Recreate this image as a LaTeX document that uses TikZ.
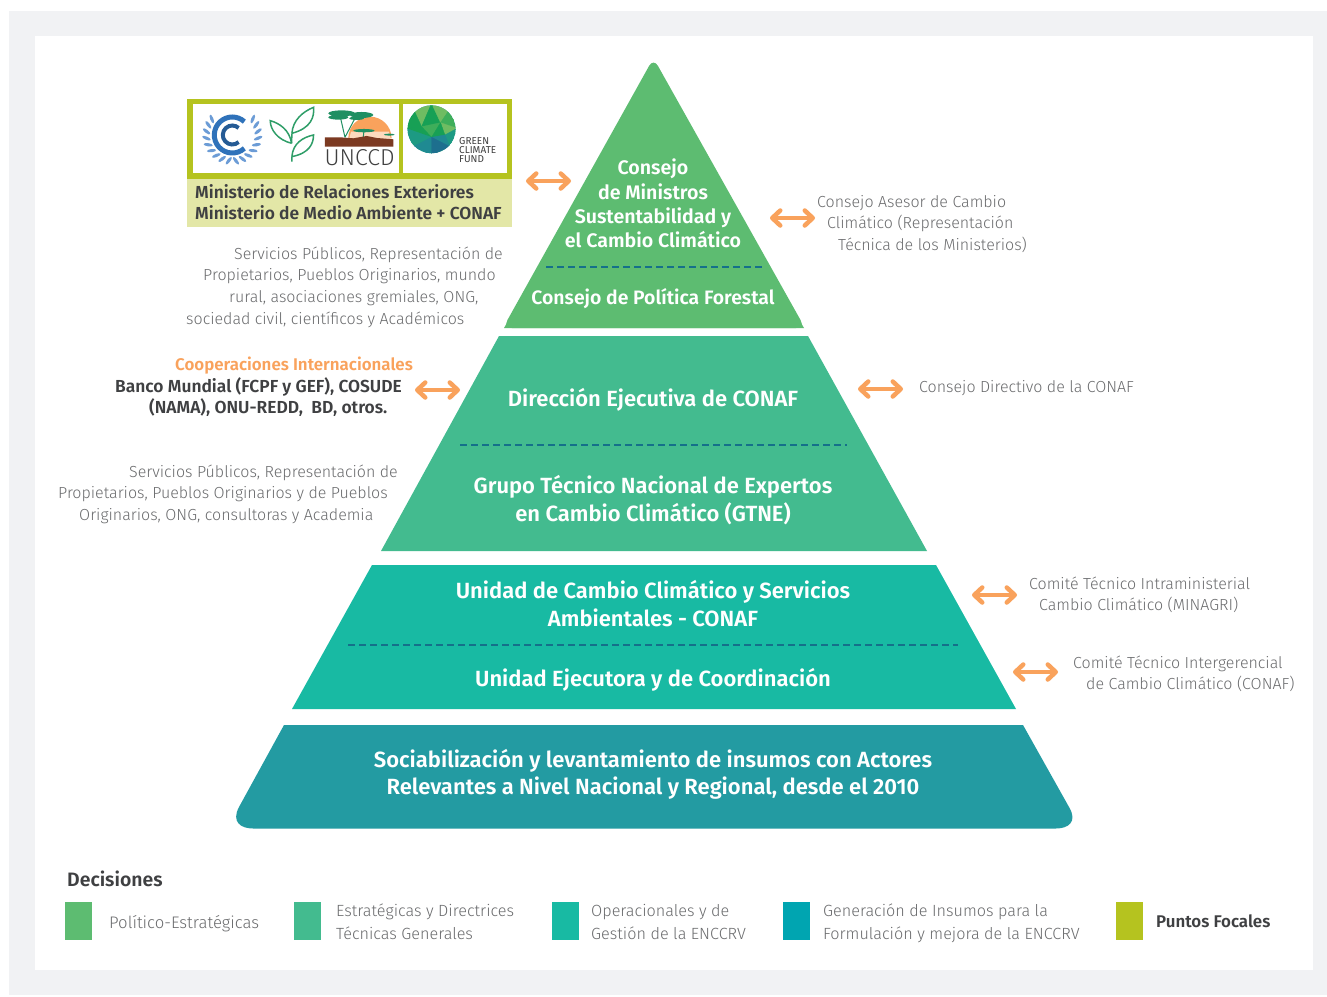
\documentclass[tikz,border=0pt]{standalone}
\usepackage{fontspec}
\setmainfont{Fira Sans}
\newfontfamily\lightfont{Fira Sans Light}
\newfontfamily\boldfont{Fira Sans SemiBold}
\usetikzlibrary{arrows.meta}

\definecolor{pagegray}{HTML}{F1F2F4}
\definecolor{levelA}{HTML}{5DBC71}
\definecolor{levelB}{HTML}{43BB8F}
\definecolor{levelC}{HTML}{18BAA3}
\definecolor{levelD}{HTML}{239BA2}
\definecolor{legendD}{HTML}{00A5B1}
\definecolor{focal}{HTML}{B5C31F}
\definecolor{focalpale}{HTML}{E3E7A7}
\definecolor{arroworange}{HTML}{F9A25C}
\definecolor{dashblue}{HTML}{15708A}
\definecolor{graytext}{HTML}{6A6B6D}
\definecolor{darktext}{HTML}{3F4042}
\definecolor{unblue}{HTML}{2F72BA}
\definecolor{unpale}{HTML}{6C9CD6}
\definecolor{leafgreen}{HTML}{2F9E68}
\definecolor{treegreen}{HTML}{1F8F62}
\definecolor{soil}{HTML}{7C3A22}
\definecolor{globeA}{HTML}{6FBC62}
\definecolor{globeB}{HTML}{3FAE5A}
\definecolor{globeC}{HTML}{17A055}
\definecolor{globeD}{HTML}{1D9A83}
\definecolor{globeE}{HTML}{1F8A92}
\definecolor{globeF}{HTML}{1D6F8E}

\tikzset{
    level/.style={white, font=\boldfont\fontsize{22}{28}\selectfont, align=center},
    side/.style={graytext, font=\lightfont\fontsize{16}{21.7}\selectfont, align=left, anchor=north west, inner sep=0},
    strong/.style={darktext, font=\boldfont\fontsize{17.4}{21.3}\selectfont, align=left, anchor=north west, inner sep=0},
    legendtext/.style={side, font=\lightfont\fontsize{16.2}{23}\selectfont},
    swatch/.style={minimum width=27pt, minimum height=38pt, inner sep=0, anchor=north west},
    twoway/.style={{Straight Barb[round,length=8pt,width=15pt]}-{Straight Barb[round,length=8pt,width=15pt]}, arroworange, line width=4.5pt},
    split/.style={dashblue, line width=1.2pt, dash pattern=on 6.5pt off 4.5pt}
}

\begin{document}
\begin{tikzpicture}[x=1pt,y=-1pt]
    \useasboundingbox (0,0) rectangle (1327,996);
    \fill[pagegray] (9,11) rectangle (1327,995);
    \fill[white] (35,36) rectangle (1313,970);

    % pyramid
    \fill[levelA, rounded corners=9pt] (653.5,58) -- (805,328) -- (503,328) -- cycle;
    \fill[levelA] (504,328) -- (600,160) -- (707,160) -- (804,328) -- cycle;
    \fill[levelB] (499,336) -- (808,336) -- (927,551) -- (381,551) -- cycle;
    \fill[levelC] (372,565) -- (936,565) -- (1016,709) -- (292,709) -- cycle;
    \fill[levelD] (284,725) -- (1023,725) -- (1069,807) .. controls (1078,822) and (1068,828.5) .. (1056,828.5)
        -- (253,828.5) .. controls (241,828.5) and (231,822) .. (239,807) -- cycle;

    \draw[split] (546,267) -- (762,267);
    \draw[split] (460,445) -- (847,445);
    \draw[split] (348,645) -- (958,645);

    \node[level, font=\boldfont\fontsize{19.6}{24.3}\selectfont] (ministros) at (653,203.5) {Consejo\\de Ministros\\Sustentabilidad y\\el Cambio Climático};
    \node[level, font=\boldfont\fontsize{19.4}{24}\selectfont] (forestal) at (653,299) {Consejo de Política Forestal};
    \node[level] (direccion) at (653,400) {Dirección Ejecutiva de CONAF};
    \node[level] (gtne) at (653,500) {Grupo Técnico Nacional de Expertos\\en Cambio Climático (GTNE)};
    \node[level] (unidad) at (653,604) {Unidad de Cambio Climático y Servicios\\Ambientales - CONAF};
    \node[level] (ejecutora) at (653,680) {Unidad Ejecutora y de Coordinación};
    \node[level, font=\boldfont\fontsize{22}{27}\selectfont] (actores) at (653,774) {Sociabilización y levantamiento de insumos con Actores\\Relevantes a Nivel Nacional y Regional, desde el 2010};

    % arrows
    \foreach \n/\x/\y in {a/526/181, b/770/218, c/415/390, d/858/389, e/972/595, f/1013/672} {
        \coordinate (\n left) at (\x,\y);
        \coordinate (\n right) at (\x+45,\y);
        \draw[twoway] (\n left) -- (\n right);
    }

    % focal point box
    \fill[focalpale] (187,179) rectangle (512,227);
    \fill[focal] (187,99) rectangle (512,179);
    \fill[white] (193,104) rectangle (399,173);
    \fill[white] (403,104) rectangle (507,173);
    \node[strong] (ministerios) at (195,184) {Ministerio de Relaciones Exteriores\\Ministerio de Medio Ambiente + CONAF};

    % un logo
    \begin{scope}[shift={(232.3,135)}]
        \foreach \a in {-128,-113,...,-8}
            \fill[unpale, rotate=\a, shift={(0,26)}, rotate=-30] (0,0) ellipse (1.6 and 4.6);
        \foreach \a in {8,23,...,128}
            \fill[unpale, rotate=\a, shift={(0,26)}, rotate=30] (0,0) ellipse (1.6 and 4.6);
        \draw[unblue, line width=5pt] (48:18) arc (48:312:18);
        \draw[unblue!80!black, line width=4pt] (48:9.5) arc (48:312:9.5);
    \end{scope}

    % leaf logo
    \begin{scope}[shift={(193,100)}, x=.333pt, y=-.333pt, leafgreen, line width=1.5pt]
        \draw (297,100) .. controls (300,60) and (330,35) .. (362,22) .. controls (365,50) and (355,85) .. (297,100);
        \draw (297,170) .. controls (300,130) and (330,112) .. (362,105) .. controls (362,130) and (350,160) .. (297,170);
        \draw (296,130) .. controls (290,90) and (260,70) .. (232,62) .. controls (232,90) and (255,120) .. (296,130);
        \draw (297,100) -- (296,130) (297,170) -- (297,185);
    \end{scope}

    % unccd logo
    \begin{scope}[shift={(320,100)}, x=.333pt, y=-.333pt]
        \fill[arroworange] (85,115) arc (180:360:65);
        \fill[arroworange!40] (88,115) -- (212,115) -- (207,95) -- (93,95) -- cycle;
        \fill[treegreen] (65,40) ellipse (40 and 9) (125,45) ellipse (35 and 9) (55,52) ellipse (30 and 7) (110,55) ellipse (22 and 5) (132,92) ellipse (32 and 5) (208,104) ellipse (16 and 3);
        \draw[treegreen, line width=1pt] (75,112) -- (62,55) (75,112) -- (105,55) (130,112) -- (132,92);
        \fill[soil] (15,112) -- (60,112) -- (100,115) -- (140,108) -- (170,114) -- (220,118) -- (220,140) -- (15,140) -- cycle;
        \node[inner sep=0, black!75, font=\lightfont\fontsize{23}{23}\selectfont] (unccd) at (119,172) {UNCCD};
    \end{scope}

    % climate fund logo
    \begin{scope}[shift={(320,100)}, x=.333pt, y=-.333pt]
        \fill[globeD] (335,88) circle (72);
        \clip (335,88) circle (72);
        \foreach \n/\x/\y in {t/335/10, ul/282/30, ur/388/30, l/258/85, r/412/85, ll/280/140, lr/390/140, b/335/165, i/305/80, j/362/68, k/335/112, m/375/105}
            \coordinate (globe\n) at (\x,\y);
        \foreach \c/\u/\v/\w in {globeA/t/ul/i, globeC/t/i/j, globeA/t/j/ur, globeC/ul/l/i, globeB/ur/j/r,
                globeB/i/j/k, globeA/j/r/m, globeC/j/m/k, globeC/l/i/k, globeD/l/k/ll, globeD/m/r/lr,
                globeE/k/m/lr, globeE/ll/k/b, globeF/k/lr/b}
            \fill[\c, draw=\c, line width=.3pt] (globe\u) -- (globe\v) -- (globe\w) -- cycle;
    \end{scope}
    \node[inner sep=0, anchor=north west, align=left, black!75, font=\fontsize{10}{9}\selectfont] (gcf) at (459,137.5) {GREEN\\CLIMATE\\FUND};

    % side texts
    \node[side] (publicosA) at (186,246.5) {\hspace*{48pt}Servicios Públicos, Representación de\\\hspace*{17pt}Propietarios, Pueblos Originarios, mundo\\\hspace*{43pt}rural, asociaciones gremiales, ONG,\\sociedad civil, científicos y Académicos};
    \node[side, font=\boldfont\fontsize{16.9}{21.5}\selectfont, arroworange] (cooperaciones) at (175,357) {Cooperaciones Internacionales};
    \node[strong] (banco) at (115,377) {Banco Mundial (FCPF y GEF), COSUDE\\\hspace*{34pt}(NAMA), ONU-REDD,\ \ BD, otros.};
    \node[side] (publicosB) at (58,464.5) {\hspace*{71pt}Servicios Públicos, Representación de\\Propietarios, Pueblos Originarios y de Pueblos\\\hspace*{21pt}Originarios, ONG, consultoras y Academia};

    \node[side] (asesor) at (817,195) {Consejo Asesor de Cambio\\\hspace*{10pt}Climático (Representación\\\hspace*{21pt}Técnica de los Ministerios)};
    \node[side] (directivo) at (919,380.5) {Consejo Directivo de la CONAF};
    \node[side] (intra) at (1029,576.5) {Comité Técnico Intraministerial\\\hspace*{10pt}Cambio Climático (MINAGRI)};
    \node[side] (inter) at (1073,655.5) {Comité Técnico Intergerencial\\\hspace*{13pt}de Cambio Climático (CONAF)};

    % legend
    \node[strong, font=\boldfont\fontsize{19.4}{22}\selectfont] (decisiones) at (67,871) {Decisiones};
    \node[swatch, fill=levelA] (legA) at (65,902) {};
    \node[swatch, fill=levelB] (legB) at (294,902) {};
    \node[swatch, fill=levelC] (legC) at (552,902) {};
    \node[swatch, fill=legendD] (legD) at (783,902) {};
    \node[swatch, fill=focal] (legE) at (1116,902) {};
    \node[legendtext, font=\lightfont\fontsize{16.7}{23}\selectfont] (txtA) at (109,915) {Político-Estratégicas};
    \node[legendtext] (txtB) at (336,904) {Estratégicas y Directrices\\Técnicas Generales};
    \node[legendtext] (txtC) at (591,904) {Operacionales y de\\Gestión de la ENCCRV};
    \node[legendtext] (txtD) at (823,904) {Generación de Insumos para la\\Formulación y mejora de la ENCCRV};
    \node[strong, font=\boldfont\fontsize{16.9}{21.5}\selectfont] (txtE) at (1156,914) {Puntos Focales};
\end{tikzpicture}
\end{document}
